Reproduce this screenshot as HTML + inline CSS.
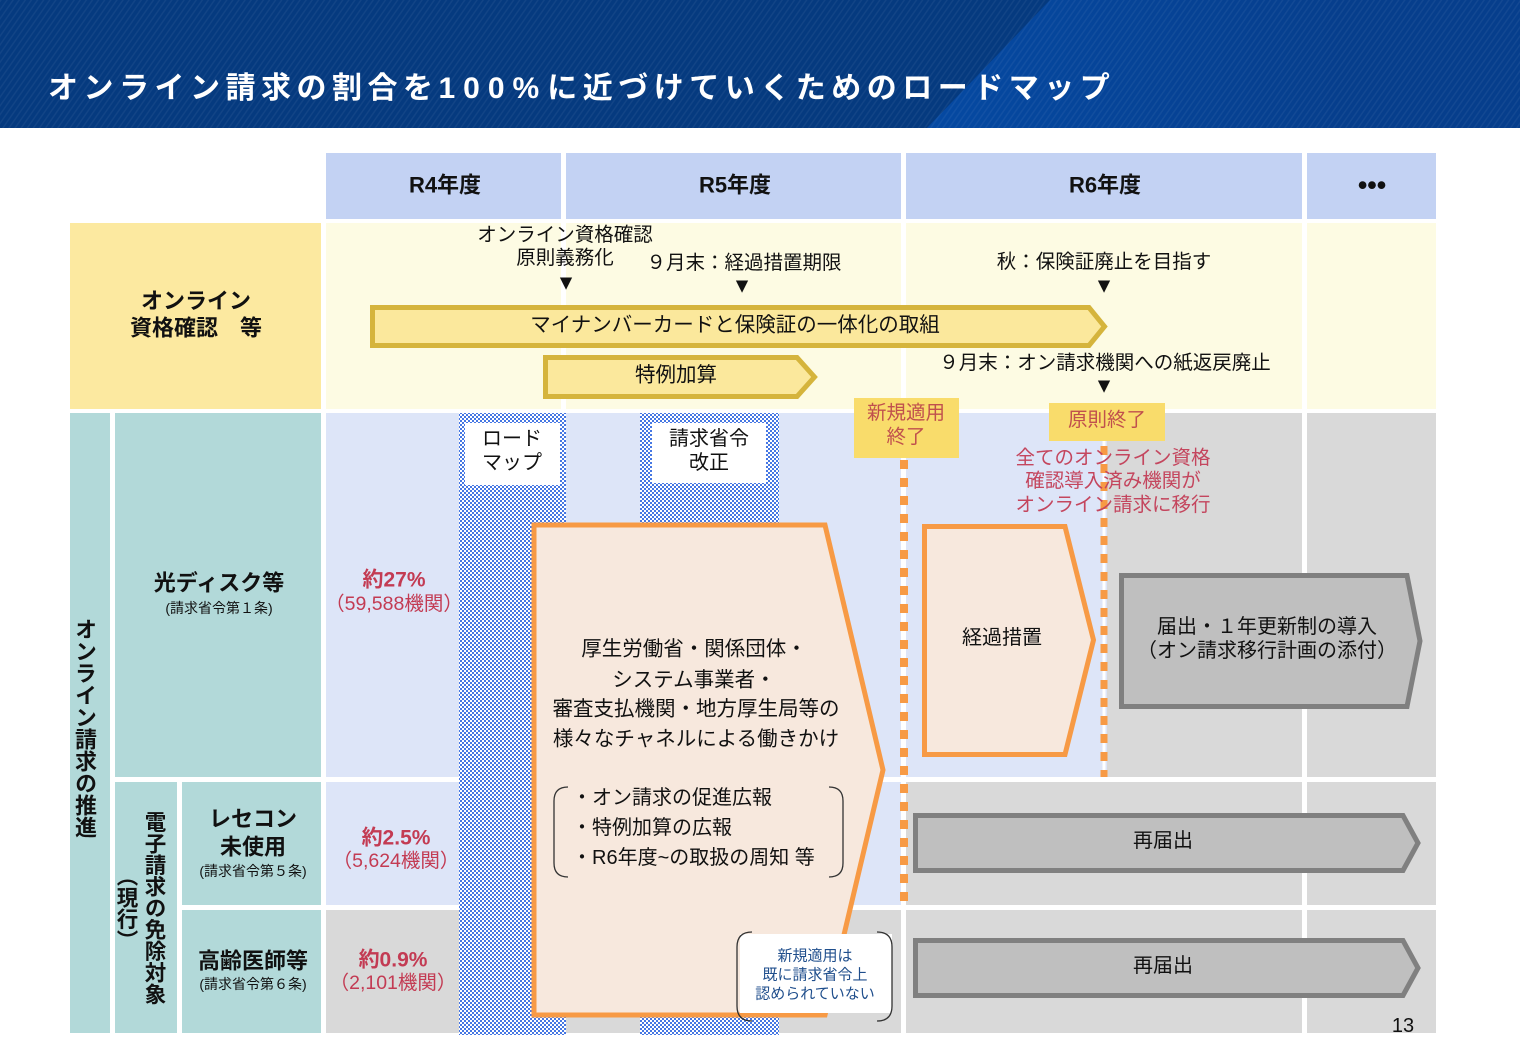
<!DOCTYPE html>
<html><head><meta charset="utf-8">
<style>
html,body{margin:0;padding:0;background:#fff;}
body{width:1520px;height:1060px;position:relative;overflow:hidden;font-family:"Liberation Sans","Noto Sans CJK JP",sans-serif;}
svg text{font-family:"Liberation Sans","Noto Sans CJK JP",sans-serif;}
.title{position:absolute;left:48px;top:70px;color:#fff;font-weight:bold;font-size:30px;letter-spacing:5.5px;line-height:38px;white-space:nowrap;}
.vt{position:absolute;writing-mode:vertical-rl;font-weight:bold;color:#111;text-align:center;white-space:nowrap;}
</style></head>
<body>
<svg width="1520" height="1060" viewBox="0 0 1520 1060" style="position:absolute;left:0;top:0">
<defs>
 <pattern id="chk" width="4" height="4" patternUnits="userSpaceOnUse">
  <rect width="4" height="4" fill="#fff"/>
  <rect width="2" height="2" fill="#4677e3"/>
  <rect x="2" y="2" width="2" height="2" fill="#4677e3"/>
 </pattern>
 <linearGradient id="hg" x1="925" y1="0" x2="1350" y2="0" gradientUnits="userSpaceOnUse">
  <stop offset="0" stop-color="#0549a2"/>
  <stop offset="1" stop-color="#063e8c"/>
 </linearGradient>
 <pattern id="diag" width="5" height="5" patternUnits="userSpaceOnUse" patternTransform="rotate(35)">
  <rect width="1.5" height="5" fill="#ffffff" opacity="0.05"/>
 </pattern>
</defs>

<!-- header band -->
<rect x="0" y="0" width="1520" height="128" fill="#053a7f"/>
<polygon points="1050,0 1520,0 1520,128 927,128" fill="url(#hg)"/>
<rect x="0" y="0" width="1520" height="128" fill="url(#diag)"/>

<!-- column headers -->
<g fill="#c3d2f3">
 <rect x="326" y="153" width="235" height="66"/>
 <rect x="566" y="153" width="335" height="66"/>
 <rect x="906" y="153" width="396" height="66"/>
 <rect x="1307" y="153" width="129" height="66"/>
</g>

<!-- row 1 -->
<rect x="70" y="223" width="251" height="186" fill="#fce9a0"/>
<g fill="#fdfbe3">
 <rect x="326" y="223" width="235" height="186"/>
 <rect x="566" y="223" width="335" height="186"/>
 <rect x="906" y="223" width="396" height="186"/>
 <rect x="1307" y="223" width="129" height="186"/>
</g>

<!-- teal label cells -->
<g fill="#b2d9d9">
 <rect x="70" y="413" width="40" height="620"/>
 <rect x="115" y="413" width="206" height="364"/>
 <rect x="115" y="782" width="62" height="251"/>
 <rect x="182" y="782" width="139" height="123"/>
 <rect x="182" y="910" width="139" height="123"/>
</g>

<!-- row 2 -->
<g fill="#dde5f8">
 <rect x="326" y="413" width="235" height="364"/>
 <rect x="566" y="413" width="335" height="364"/>
 <rect x="906" y="413" width="201" height="364"/>
 <rect x="326" y="782" width="235" height="123"/>
 <rect x="566" y="782" width="335" height="123"/>
</g>
<g fill="#d9d9d9">
 <rect x="1107" y="413" width="195" height="364"/>
 <rect x="1307" y="413" width="129" height="364"/>
 <rect x="906" y="782" width="396" height="123"/>
 <rect x="1307" y="782" width="129" height="123"/>
 <rect x="326" y="910" width="235" height="123"/>
 <rect x="566" y="910" width="335" height="123"/>
 <rect x="906" y="910" width="396" height="123"/>
 <rect x="1307" y="910" width="129" height="123"/>
</g>

<!-- checker columns -->
<rect x="459" y="413" width="107" height="622" fill="url(#chk)"/>
<rect x="640" y="413" width="139" height="622" fill="url(#chk)"/>
<rect x="465" y="423" width="95" height="62" fill="#fff"/>
<rect x="652" y="423" width="114" height="60" fill="#fff"/>

<!-- gold arrows -->
<polygon points="372.5,307.5 1089,307.5 1104.5,326.5 1089,345.5 372.5,345.5" fill="#fbe89c" stroke="#d5b43c" stroke-width="5"/>
<polygon points="545.5,357.5 797,357.5 814.5,377 797,396.5 545.5,396.5" fill="#fbe89c" stroke="#d5b43c" stroke-width="5"/>

<!-- big orange pentagon -->
<polygon points="534,525 825,525 883,770 825,1015 534,1015" fill="#f7e8dd" stroke="#f79a45" stroke-width="5"/>

<!-- 経過措置 -->
<polygon points="924.5,526.5 1065,526.5 1093.5,640 1065,754.5 924.5,754.5" fill="#f7e8dd" stroke="#f79a45" stroke-width="5"/>

<!-- gray arrows -->
<polygon points="1121.5,575.5 1407,575.5 1420,641 1407,706.5 1121.5,706.5" fill="#bfbfbf" stroke="#808080" stroke-width="5"/>
<polygon points="915.5,815.5 1403,815.5 1418,843 1403,870.5 915.5,870.5" fill="#bfbfbf" stroke="#808080" stroke-width="5"/>
<polygon points="915.5,940.5 1403,940.5 1418,968 1403,995.5 915.5,995.5" fill="#bfbfbf" stroke="#808080" stroke-width="5"/>

<!-- dashed lines -->
<line x1="904" y1="458" x2="904" y2="905" stroke="#fff" stroke-width="4"/>
<line x1="904" y1="460" x2="904" y2="905" stroke="#f79a45" stroke-width="8" stroke-dasharray="9 9"/>
<line x1="1104" y1="441" x2="1104" y2="777" stroke="#fff" stroke-width="3"/>
<line x1="1104" y1="446" x2="1104" y2="777" stroke="#f79a45" stroke-width="7" stroke-dasharray="9 9"/>

<!-- label boxes -->
<rect x="854" y="398" width="105" height="60" fill="#f9dc6b"/>
<rect x="1049" y="403" width="116" height="38" fill="#f9dc6b"/>

<!-- bracket list -->
<path d="M568,787 Q554,787 554,801 L554,863 Q554,877 568,877" fill="none" stroke="#333" stroke-width="1.3"/>
<path d="M829,787 Q843,787 843,801 L843,863 Q843,877 829,877" fill="none" stroke="#333" stroke-width="1.3"/>

<!-- callout -->
<rect x="740" y="934" width="152" height="79" fill="#fff"/>
<path d="M752,932 Q737,932 737,947 L737,1006 Q737,1021 752,1021" fill="none" stroke="#333" stroke-width="1.3"/>
<path d="M877,932 Q892,932 892,947 L892,1006 Q892,1021 877,1021" fill="none" stroke="#333" stroke-width="1.3"/>

<!-- header texts -->
<g font-weight="bold" font-size="22" fill="#111" text-anchor="middle" dominant-baseline="central">
 <text x="445" y="185">R4年度</text>
 <text x="735" y="185">R5年度</text>
 <text x="1105" y="185">R6年度</text>
 <text x="1372" y="185" font-size="27">•••</text>
</g>

<!-- row 1 label -->
<g font-weight="bold" font-size="22" fill="#111" text-anchor="middle" dominant-baseline="central">
 <text x="196" y="301">オンライン</text>
 <text x="196" y="328">資格確認　等</text>
</g>

<!-- row 1 texts -->
<g font-size="19.5" fill="#111" text-anchor="middle" dominant-baseline="central">
 <text x="565" y="235">オンライン資格確認</text>
 <text x="565" y="258">原則義務化</text>
 <text x="744" y="263">９月末：経過措置期限</text>
 <text x="1104" y="262">秋：保険証廃止を目指す</text>
 <text x="1105" y="363">９月末：オン請求機関への紙返戻廃止</text>
</g>
<g font-size="21" fill="#111" text-anchor="middle" dominant-baseline="central">
 <text x="566" y="283">▼</text>
 <text x="742" y="286">▼</text>
 <text x="1104" y="286">▼</text>
 <text x="1104" y="386">▼</text>
</g>
<g font-size="20.5" fill="#111" text-anchor="middle" dominant-baseline="central">
 <text x="735" y="325">マイナンバーカードと保険証の一体化の取組</text>
 <text x="676" y="375">特例加算</text>
</g>

<!-- label box texts -->
<g font-size="19.5" fill="#c0504d" text-anchor="middle" dominant-baseline="central">
 <text x="906" y="413">新規適用</text>
 <text x="906" y="437">終了</text>
 <text x="1107" y="420">原則終了</text>
</g>
<g font-size="19.5" fill="#c4465e" text-anchor="middle" dominant-baseline="central">
 <text x="1113" y="458">全てのオンライン資格</text>
 <text x="1113" y="481">確認導入済み機関が</text>
 <text x="1113" y="505">オンライン請求に移行</text>
</g>

<!-- left labels rows 2-4 -->
<g fill="#111" text-anchor="middle" dominant-baseline="central">
 <text x="219" y="583" font-size="22" font-weight="bold">光ディスク等</text>
 <text x="219" y="608" font-size="14">(請求省令第１条)</text>
 <text x="253" y="819" font-size="22" font-weight="bold">レセコン</text>
 <text x="253" y="847" font-size="22" font-weight="bold">未使用</text>
 <text x="253" y="871" font-size="14">(請求省令第５条)</text>
 <text x="253" y="961" font-size="22" font-weight="bold">高齢医師等</text>
 <text x="253" y="984" font-size="14">(請求省令第６条)</text>
</g>

<!-- percentages -->
<g fill="#c33b53" text-anchor="middle" dominant-baseline="central">
 <text x="394" y="580" font-size="21" font-weight="bold">約27%</text>
 <text x="394" y="604" font-size="19.5">（59,588機関）</text>
 <text x="396" y="838" font-size="21" font-weight="bold">約2.5%</text>
 <text x="396" y="861" font-size="19.5">（5,624機関）</text>
 <text x="393" y="960" font-size="21" font-weight="bold">約0.9%</text>
 <text x="393" y="983" font-size="19.5">（2,101機関）</text>
</g>

<!-- checker box texts -->
<g font-size="20" fill="#111" text-anchor="middle" dominant-baseline="central">
 <text x="512" y="439">ロード</text>
 <text x="512" y="463">マップ</text>
 <text x="709" y="439">請求省令</text>
 <text x="709" y="463">改正</text>
</g>

<!-- pentagon texts -->
<g font-size="20.5" fill="#111" text-anchor="middle" dominant-baseline="central">
 <text x="694" y="649">厚生労働省・関係団体・</text>
 <text x="694" y="680">システム事業者・</text>
 <text x="696" y="709">審査支払機関・地方厚生局等の</text>
 <text x="696" y="739">様々なチャネルによる働きかけ</text>
</g>
<g font-size="20" fill="#111" dominant-baseline="central">
 <text x="572" y="798">・オン請求の促進広報</text>
 <text x="572" y="828">・特例加算の広報</text>
 <text x="572" y="858">・R6年度~の取扱の周知 等</text>
</g>
<g font-size="15" fill="#1f4e8c" text-anchor="middle" dominant-baseline="central">
 <text x="815" y="956">新規適用は</text>
 <text x="815" y="975">既に請求省令上</text>
 <text x="815" y="994">認められていない</text>
</g>

<!-- right texts -->
<g font-size="20" fill="#111" text-anchor="middle" dominant-baseline="central">
 <text x="1002" y="638">経過措置</text>
 <text x="1267" y="627">届出・１年更新制の導入</text>
 <text x="1267" y="651">（オン請求移行計画の添付）</text>
 <text x="1163" y="841">再届出</text>
 <text x="1163" y="966">再届出</text>
</g>
<text x="1403" y="1026" font-size="20" fill="#111" text-anchor="middle" dominant-baseline="central">13</text>
</svg>

<div class="title">オンライン請求の割合を<span style="letter-spacing:8px">100%</span>に近づけていくためのロードマップ</div>

<div class="vt" style="left:70px;top:418px;width:28px;height:620px;font-size:22px;line-height:28px;">オンライン請求の推進</div>
<div class="vt" style="left:112px;top:782px;width:56px;height:251px;font-size:21.5px;line-height:28px;">電子請求の免除対象<br>（現行）</div>
</body></html>
